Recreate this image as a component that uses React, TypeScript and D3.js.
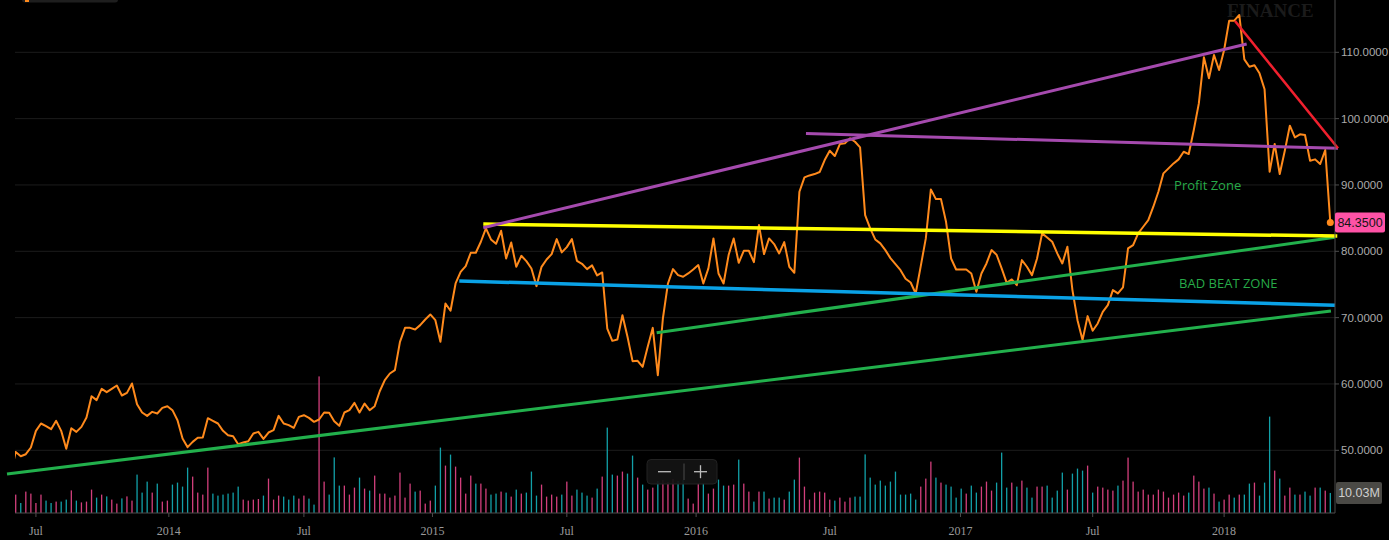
import React from 'react';
import * as d3 from 'd3';

const WIDTH = 1389;
const HEIGHT = 540;

// weekly closes; the first one (week of 2013-05-27) sits just left of the pane
const FIRST_WEEK = Date.UTC(2013, 4, 27);
const WEEK_MS = 7 * 86400000;

const closes = [
  46.45,
  49.76, 49.11, 49.41, 50.42, 52.93, 54.04, 53.64, 53.18, 54.44, 52.93,
  50.22, 53.33, 52.78, 53.53, 54.94, 58.16, 57.56, 59.27, 58.76, 59.27,
  59.77, 58.26, 58.66, 60.07, 56.95, 55.70, 55.19, 55.80, 55.55, 56.40,
  56.65, 56.05, 54.54, 51.78, 50.47, 51.27, 51.88, 51.93, 54.84, 54.44,
  54.04, 52.93, 52.28, 52.13, 50.92, 51.17, 51.37, 52.53, 52.78, 51.72,
  52.68, 53.03, 55.19, 54.04, 53.79, 53.38, 55.04, 55.29, 54.89, 54.29,
  54.64, 55.70, 55.65, 54.39, 53.69, 55.70,
  56.05, 57.15, 55.70, 57.05, 56.05, 56.65, 58.90,
  60.57, 61.58, 62.08, 66.35, 68.46, 68.46, 68.21, 68.87, 69.72, 70.48,
  69.62, 66.35, 72.13, 71.03, 75.15, 76.91, 77.77, 79.78, 79.78, 81.44,
  83.45, 81.79, 81.13, 83.09, 78.92, 81.33, 77.66, 79.32, 78.52, 77.41,
  74.75, 77.66, 78.77, 79.57, 81.84, 79.83, 80.63, 81.84, 78.57, 78.12,
  77.31, 77.87, 76.36, 76.81, 68.36, 66.50, 66.70, 70.37, 67.11, 63.44,
  63.49, 62.58, 65.60, 68.46, 61.32, 69.87, 75.15, 77.31, 76.41,
  76.16, 76.66, 77.26, 77.92, 75.15, 77.42, 81.94, 76.66, 75.15, 79.43,
  81.94, 78.27, 80.08, 80.08, 78.37, 83.95, 79.58, 81.94, 81.09, 79.68,
  81.39, 77.67, 76.76, 88.98, 91.14, 91.44, 91.64, 91.95, 93.76, 95.16,
  94.36, 96.17, 96.27, 97.02, 96.52, 95.67, 85.46, 83.45, 81.79, 81.19,
  80.18, 78.97, 78.07, 77.16, 75.86, 75.30, 73.64, 77.77, 81.94, 89.33,
  87.87, 87.87, 84.45, 78.92, 77.26, 77.26, 77.26, 76.66, 73.90, 76.66,
  78.17, 80.18, 79.48, 77.42, 75.25, 75.76,
  74.90, 78.67, 77.67, 76.41, 78.92, 82.70, 82.09, 81.44, 79.68, 78.17,
  80.69, 74.15, 69.62, 66.61, 70.23, 68.02, 69.12, 70.88, 71.89, 74.15,
  73.65, 74.55, 80.43, 80.94, 82.70, 83.70, 84.71, 86.72, 88.98, 91.75,
  92.50, 93.25, 93.86, 95.01, 94.66, 98.28, 102.30, 109.24, 106.08, 109.59,
  107.33, 110.35, 114.77, 114.77, 115.63, 108.94, 107.83, 108.04, 106.83, 104.42,
  92.00, 96.17, 91.65, 95.16, 98.94, 97.18, 97.63, 97.53, 93.66, 93.86,
  93.16, 95.27, 84.35,
];

// weekly volume in millions, starting at week 1
const volumes = [
  9.2, 5.0, 10.7, 9.7, 5.0, 9.2, 6.2, 5.0, 5.7, 5.7,
  6.7, 11.3, 6.2, 5.3, 5.7, 11.7, 7.7, 9.2, 8.3, 6.7,
  4.7, 7.3, 8.3, 6.2, 19.2, 10.2, 15.7, 10.2, 14.7, 5.7,
  6.2, 14.2, 15.2, 13.2, 22.7, 18.2, 10.2, 9.2, 22.7, 9.7,
  8.7, 9.2, 9.7, 10.2, 13.2, 6.7, 6.2, 6.7, 7.0, 8.7,
  17.2, 6.7, 8.7, 8.2, 6.7, 8.7, 7.2, 8.7, 7.2, 4.2,
  68.3, 15.7, 9.2, 27.8, 13.7, 13.7, 9.2, 12.7, 17.7, 12.2,
  11.2, 18.7, 9.7, 9.7, 7.7, 8.7, 20.2, 7.7, 14.7, 10.7,
  11.2, 4.7, 6.2, 13.7, 32.7, 23.7, 29.2, 23.2,
  17.7, 9.7, 18.7, 14.7, 14.7, 12.2, 9.2, 9.7, 10.7, 10.2,
  8.2, 11.7, 9.7, 10.2, 20.7, 8.7, 14.2, 8.2, 9.2, 8.2,
  9.2, 15.7, 8.7, 11.7, 10.2, 8.7, 7.7, 12.2, 18.2, 42.7,
  19.2, 18.7, 20.7, 19.7, 28.7, 17.7, 14.2, 11.7, 12.7, 16.0,
  16.5, 15.5, 17.0, 16.0, 16.5, 7.2, 4.7, 15.0, 15.0, 9.7,
  12.2, 16.7, 13.7, 13.7, 14.2, 26.7, 14.7, 10.7, 5.7, 10.7,
  10.7, 7.2, 7.7, 7.7, 6.7, 10.7, 16.7, 27.7, 13.2, 6.7,
  10.2, 10.7, 10.2, 6.7, 6.2, 7.7, 5.7, 7.7, 8.2, 8.2,
  29.3, 17.7, 14.2, 16.2, 13.7, 15.7, 20.7,
  9.2, 9.2, 9.7, 6.7, 13.2, 17.2, 25.7, 17.7, 15.2, 14.2,
  13.2, 7.7, 12.2, 9.7, 13.7, 10.2, 13.2, 15.7, 11.2, 15.2,
  30.2, 12.7, 15.2, 13.2, 16.2, 12.7, 7.7, 13.2, 13.2, 13.7,
  7.7, 11.2, 20.2, 11.7, 19.7, 22.2, 21.2, 23.7, 10.2, 13.2,
  12.7, 11.7, 11.2, 13.7, 16.2, 27.7, 15.7, 10.7, 11.7, 9.2,
  9.2, 11.7, 10.7, 7.7, 9.2, 10.2, 8.7, 10.2, 18.7, 15.7,
  12.2, 12.7, 9.7, 5.7, 6.7, 9.2, 7.7, 9.2, 9.2, 14.7,
  15.2, 8.7, 15.2, 48.2, 21.2, 17.2, 8.7, 12.7, 9.2, 9.2,
  10.7, 8.7, 12.7, 12.7, 11.2, 10.03,
];

// t = up week (teal), p = down week (pink)
const volumeSide = (
  'ptppppttpt tptppptptp ptpptttptp pttttppppt tttttppppt ppptttpptt pptttppptp tppppppppt pppttptp' +
  'ppptppttpt ptptttpppp tpptttptpt tppttptppt pppttppptp pttpptpptp tpttpttppp pppptppptt ttttttt' +
  'ttttppptpt tttpttpppt ttptpttppt tttptttptp ppptpppppp ppppppptpp ptptpptptt ptttptpptp ttptpt'
).replace(/\s/g, '');

const priceTicks = [50, 60, 70, 80, 90, 100, 110];

const timeTicks = [
  { date: '2013-07-01', label: 'Jul' },
  { date: '2014-01-01', label: '2014' },
  { date: '2014-07-07', label: 'Jul' },
  { date: '2015-01-01', label: '2015' },
  { date: '2015-07-06', label: 'Jul' },
  { date: '2016-01-01', label: '2016' },
  { date: '2016-07-04', label: 'Jul' },
  { date: '2017-01-01', label: '2017' },
  { date: '2017-07-03', label: 'Jul' },
  { date: '2018-01-01', label: '2018' },
];

// drawn trend lines: [week, price] end points
const trendLines = [
  { name: 'supportLow', from: [-0.72, 46.42], to: [261.13, 71.0] },
  { name: 'supportMid', from: [127.77, 67.73], to: [261.93, 82.11] },
  { name: 'blue', from: [88.73, 75.52], to: [261.93, 71.86] },
  { name: 'yellow', from: [93.48, 84.11], to: [262.38, 82.3] },
  { name: 'channelTop', from: [93.48, 83.56], to: [244.46, 111.25] },
  { name: 'neckline', from: [157.3, 97.76], to: [262.52, 95.53] },
  { name: 'downtrend', from: [242.15, 114.72], to: [262.52, 95.53] },
];

const zoneLabels = [
  { text: 'Profit Zone', week: 230.1, price: 90.0 },
  { text: 'BAD BEAT ZONE', week: 231.1, price: 75.22 },
];

const lineStyle: Record<string, { color: string; width: number }> = {
  supportLow: { color: '#22b04c', width: 3 },
  supportMid: { color: '#22b04c', width: 3 },
  blue: { color: '#0aa2e6', width: 3.5 },
  yellow: { color: '#ffff00', width: 3.5 },
  channelTop: { color: '#a54aae', width: 3 },
  neckline: { color: '#a54aae', width: 3 },
  downtrend: { color: '#f0202e', width: 2.6 },
};

const PANE_LEFT = 15;
const PANE_RIGHT = 1335;
const PANE_BOTTOM = 513;

const weekOf = (s: string) => (Date.parse(s) - FIRST_WEEK) / WEEK_MS;

export default function App() {
  const x = d3.scaleLinear().domain([1, 261]).range([15.7, 1330.3]);
  const y = d3.scaleLinear().domain([50, 110]).range([450.3, 52.3]);
  const yVol = d3.scaleLinear().domain([0, 70]).range([PANE_BOTTOM, PANE_BOTTOM - 140]);

  const pricePath = d3
    .line<number>()
    .x((_, i) => x(i))
    .y((d) => y(d))(closes);

  const last = closes[closes.length - 1];
  const lastWeek = closes.length - 1;
  const lastVol = volumes[volumes.length - 1];

  return (
    <svg
      width={WIDTH}
      height={HEIGHT}
      style={{ position: 'absolute', left: 0, top: 0, display: 'block' }}
    >
      <defs>
        <clipPath id="pane">
          <rect x={PANE_LEFT} y={0} width={PANE_RIGHT - PANE_LEFT} height={PANE_BOTTOM} />
        </clipPath>
      </defs>
      <rect width={WIDTH} height={HEIGHT} fill="#000" />

      {/* grid */}
      {priceTicks.map((t) => (
        <line key={t} x1={PANE_LEFT} x2={PANE_RIGHT} y1={y(t)} y2={y(t)} stroke="#1c1c1c" strokeWidth={1} />
      ))}

      {/* clipped legend box and watermark */}
      <rect x={22} y={-12} width={96} height={14.5} rx={3} fill="#1e1e1e" />
      <rect x={25} y={-4} width={4} height={6} fill="#ff8a1c" />
      <text x={1227} y={17} fontFamily="Liberation Serif" fontWeight="bold" fontSize={19} fill="#1b1b1b">
        FINANCE
      </text>

      {/* volume */}
      <g>
        {volumes.map((v, i) => (
          <rect
            key={i}
            x={x(i + 1) - 0.65}
            y={yVol(v)}
            width={1.3}
            height={PANE_BOTTOM - yVol(v)}
            fill={volumeSide[i] === 't' ? '#12a0a8' : '#d23f7c'}
          />
        ))}
      </g>

      {/* price */}
      <g clipPath="url(#pane)">
        <path d={pricePath ?? ''} fill="none" stroke="#ff8a1c" strokeWidth={2} strokeLinejoin="round" />
      </g>

      {/* drawings */}
      {trendLines.map((l) => (
        <line
          key={l.name}
          x1={x(l.from[0])}
          y1={y(l.from[1])}
          x2={x(l.to[0])}
          y2={y(l.to[1])}
          stroke={lineStyle[l.name].color}
          strokeWidth={lineStyle[l.name].width}
        />
      ))}
      {zoneLabels.map((z) => (
        <text
          key={z.text}
          x={x(z.week)}
          y={y(z.price)}
          dy="0.35em"
          fontFamily="Open Sans"
          fontSize={13}
          fill="#27aa48"
        >
          {z.text}
        </text>
      ))}

      <circle cx={x(lastWeek)} cy={y(last)} r={3.5} fill="#ff8a1c" />

      {/* zoom control */}
      <g>
        <rect x={647} y={459.5} width={70} height={24.5} rx={4} fill="#141414" fillOpacity={0.92} stroke="#222" />
        <line x1={658} x2={671} y1={471.7} y2={471.7} stroke="#bdbdbd" strokeWidth={1.3} />
        <line x1={684} x2={684} y1={463.5} y2={480} stroke="#4a4a4a" strokeWidth={1} />
        <line x1={694} x2={707} y1={471.7} y2={471.7} stroke="#bdbdbd" strokeWidth={1.3} />
        <line x1={700.5} x2={700.5} y1={465.2} y2={478.2} stroke="#bdbdbd" strokeWidth={1.3} />
      </g>

      {/* right axis */}
      <line x1={PANE_RIGHT} x2={PANE_RIGHT} y1={0} y2={PANE_BOTTOM} stroke="#4d4d4d" strokeWidth={1} />
      {priceTicks.map((t) => (
        <g key={t}>
          <line x1={PANE_RIGHT} x2={PANE_RIGHT + 4} y1={y(t)} y2={y(t)} stroke="#4d4d4d" />
          <text
            x={1341}
            y={y(t)}
            dy="0.35em"
            fontFamily="Liberation Sans"
            fontSize={11.5}
            fill="#ababab"
          >
            {d3.format('.4f')(t)}
          </text>
        </g>
      ))}

      {/* last price label */}
      <rect x={1335} y={y(last) - 10} width={50} height={20} rx={2} fill="#ff52a6" />
      <text
        x={1360}
        y={y(last)}
        dy="0.36em"
        textAnchor="middle"
        fontFamily="Liberation Sans"
        fontSize={12.5}
        fill="#141414"
      >
        {d3.format('.4f')(last)}
      </text>

      {/* last volume label */}
      <rect x={1336} y={yVol(lastVol) - 11} width={46} height={22} rx={2} fill="#4a4945" />
      <text
        x={1359}
        y={yVol(lastVol)}
        dy="0.36em"
        textAnchor="middle"
        fontFamily="Liberation Sans"
        fontSize={12.5}
        fill="#cfcfcf"
      >
        {d3.format('.2f')(lastVol)}M
      </text>

      {/* time axis */}
      <line x1={PANE_LEFT} x2={PANE_RIGHT} y1={PANE_BOTTOM} y2={PANE_BOTTOM} stroke="#4d4d4d" />
      {timeTicks.map((t) => {
        const tx = x(weekOf(t.date));
        return (
          <g key={t.date}>
            <line x1={tx} x2={tx} y1={PANE_BOTTOM} y2={PANE_BOTTOM + 4} stroke="#4d4d4d" />
            <text
              x={tx}
              y={531}
              dy="0.35em"
              textAnchor="middle"
              fontFamily="Liberation Serif"
              fontSize={12}
              fill="#9a9a9a"
            >
              {t.label}
            </text>
          </g>
        );
      })}
    </svg>
  );
}
